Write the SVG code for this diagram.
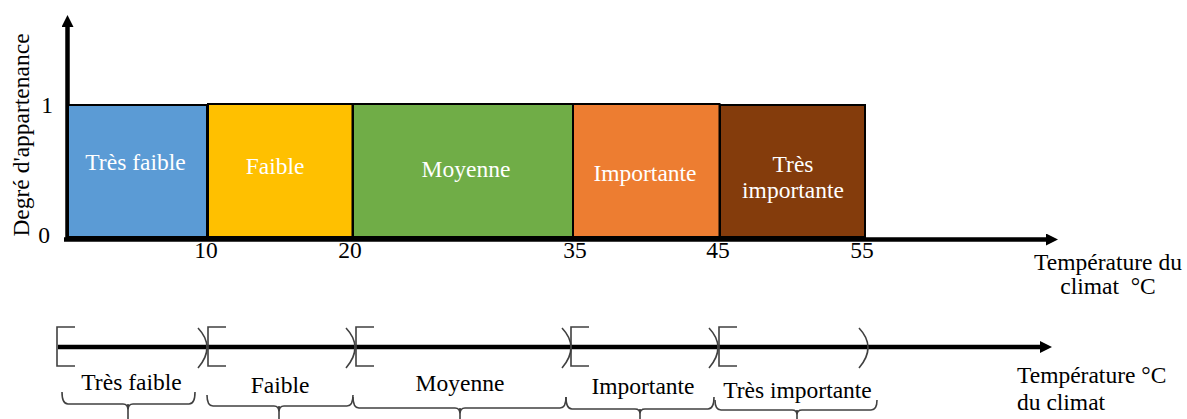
<svg xmlns="http://www.w3.org/2000/svg" width="1187" height="419" viewBox="0 0 1187 419">
<style>
text{font-family:"Liberation Serif","Times New Roman",serif;font-size:23.5px;fill:#000}
.w{fill:#fff;text-anchor:middle}
.c{text-anchor:middle}
.box{stroke:#000;stroke-width:2}
.axis{stroke:#000;stroke-width:4.5;fill:none}
.br{stroke:#404040;stroke-width:1.6;fill:none}
</style>
<defs>
<marker id="ah" viewBox="0 0 12 12" refX="1" refY="6" markerWidth="12" markerHeight="12" markerUnits="userSpaceOnUse" orient="auto">
<path d="M0,0 L12,6 L0,12 Z" fill="#000"/>
</marker>
</defs>
<g id="connectors">
<line class="axis" x1="67.5" y1="240" x2="67.5" y2="26" marker-end="url(#ah)"/>
<line class="axis" x1="64" y1="239.5" x2="1047" y2="239.5" marker-end="url(#ah)"/>
<line class="axis" x1="58" y1="347" x2="1041" y2="347" marker-end="url(#ah)"/>
</g>
<g id="yaxis-labels">
<text x="47" y="113" class="c">1</text>
<text x="44" y="243" class="c">0</text>
<text transform="translate(29,135) rotate(-90)" class="c">Degré d'appartenance</text>
</g>
<g id="ticks">
<text x="206" y="258" class="c">10</text>
<text x="350" y="258" class="c">20</text>
<text x="575" y="258" class="c">35</text>
<text x="718" y="258" class="c">45</text>
<text x="862" y="258" class="c">55</text>
<text x="1108" y="270" class="c">Température du</text>
<text x="1108" y="294" class="c">climat&#160; °C</text>
</g>
<g id="tres-faible">
<rect class="box" x="68" y="105" width="139" height="132" fill="#5B9BD5"/>
<text x="135.5" y="170" class="w">Très faible</text>
</g>
<g id="faible">
<rect class="box" x="208" y="104" width="144.5" height="133" fill="#FFC000"/>
<text x="275" y="174" class="w">Faible</text>
</g>
<g id="moyenne">
<rect class="box" x="353" y="104" width="220" height="133" fill="#70AD47"/>
<text x="466" y="177" class="w">Moyenne</text>
</g>
<g id="importante">
<rect class="box" x="573" y="104" width="146.5" height="133" fill="#ED7D31"/>
<text x="645" y="181" class="w">Importante</text>
</g>
<g id="tres-importante">
<rect class="box" x="720" y="105" width="145" height="132" fill="#843C0C"/>
<text x="793" y="172" class="w">Très</text>
<text x="793" y="198" class="w">importante</text>
</g>
<g id="intervals">
<path class="br" d="M75,327 H57 V366 H75"/>
<path class="br" d="M198,328 Q216,347 198,368"/>
<path class="br" d="M226,327 H208 V366 H226"/>
<path class="br" d="M346,328 Q364,347 346,368"/>
<path class="br" d="M374,327 H356 V366 H374"/>
<path class="br" d="M562,328 Q580,347 562,368"/>
<path class="br" d="M589,327 H571 V366 H589"/>
<path class="br" d="M709,328 Q727,347 709,368"/>
<path class="br" d="M737,327 H719 V366 H737"/>
<path class="br" d="M859,328 Q877,347 859,368"/>
</g>
<g id="brace-tres-faible">
<path class="br" d="M62,392 Q62,404 68,404 H123 Q128,404 128,410 Q128,404 133,404 H189 Q195,404 195,392 M128,404 V420"/>
<text x="131.5" y="390" class="c">Très faible</text>
</g>
<g id="brace-faible">
<path class="br" d="M207,395 Q207,406 213,406 H274 Q279,406 279,412 Q279,406 284,406 H347 Q353,406 353,395 M279,406 V420"/>
<text x="280" y="393" class="c">Faible</text>
</g>
<g id="brace-moyenne">
<path class="br" d="M353,397 Q353,408 359,408 H455 Q460,408 460,414 Q460,408 465,408 H560 Q566,408 566,397 M460,408 V420"/>
<text x="460" y="391" class="c">Moyenne</text>
</g>
<g id="brace-importante">
<path class="br" d="M566,397 Q566,409 572,409 H635 Q640,409 640,414 Q640,409 645,409 H708 Q714,409 714,397 M640,409 V420"/>
<text x="643" y="394" class="c">Importante</text>
</g>
<g id="brace-tres-importante">
<path class="br" d="M715,400 Q715,410 721,410 H792 Q797,410 797,415 Q797,410 802,410 H871 Q877,410 877,400 M797,410 V420"/>
<text x="797.5" y="398" class="c">Très importante</text>
</g>
<g id="axis2-label">
<text x="1017" y="383">Température °C</text>
<text x="1017" y="410">du climat</text>
</g>
</svg>
